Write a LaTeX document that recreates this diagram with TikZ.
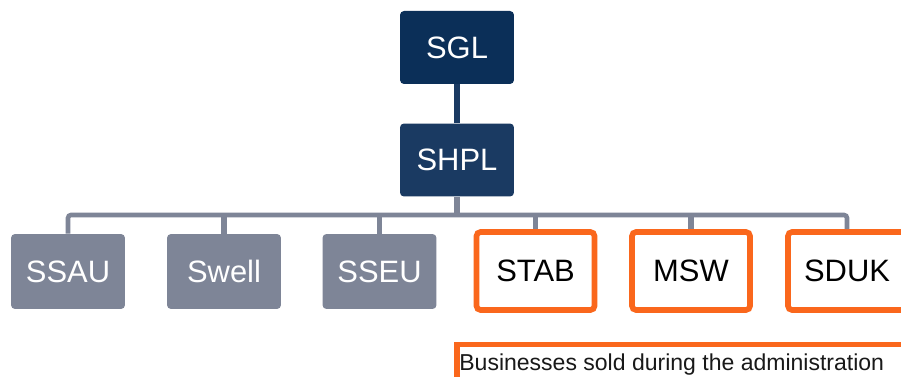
\documentclass[tikz,border=0pt]{standalone}
\usepackage{fontspec}
\setmainfont{Liberation Sans}
\definecolor{navyA}{HTML}{0B2F58}
\definecolor{navyB}{HTML}{1A3A62}
\definecolor{slate}{HTML}{7E8597}
\definecolor{flame}{HTML}{FA671C}

\begin{document}
\begin{tikzpicture}[x=0.02cm, y=-0.02cm,
        unit/.style={rectangle, rounded corners=0.08cm, minimum width=2.28cm, minimum height=1.5cm, inner sep=0pt, font=\fontsize{17.6}{20}\selectfont},
        parent/.style={unit, minimum height=1.46cm, text=white},
        held/.style={unit, fill=slate, text=white},
        sold/.style={unit, draw=flame, line width=3.2pt, minimum width=2.36cm, minimum height=1.56cm, text=black},
        link/.style={line width=3.2pt}]
        % Define Variables
        \def\rowA{47.5}
        \def\rowB{160}
        \def\rowC{271.5}
        \def\bar{215}

        % Canvas
        \clip (0,0) rectangle (901,377);
        \fill[white] (0,0) rectangle (901,377);

        % Parents
        \node[parent, fill=navyA] at (457,\rowA) (sgl) {SGL};
        \node[parent, fill=navyB] at (457,\rowB) (shpl) {SHPL};
        \draw[link, color=navyB] (sgl) -- (shpl);

        % Subsidiaries
        \node[held] at (68,\rowC) (ssau) {SSAU};
        \node[held] at (224,\rowC) (swell) {Swell};
        \node[held] at (379.5,\rowC) (sseu) {SSEU};
        \node[sold] at (535.5,271) (stab) {STAB};
        \node[sold] at (691,271) (msw) {MSW};
        \node[sold] at (847,271) (sduk) {SDUK};

        % Group Bar
        \coordinate (split) at (457,\bar);
        \draw[link, color=slate] (shpl) -- (split);
        \draw[line width=2.6pt, color=slate, rounded corners=0.06cm] (ssau.north) |- (split) -| (sduk.north);
        \foreach \n in {swell, sseu, stab, msw} {
            \draw[line width=2.9pt, color=slate] (\n.north) -- (\n.north |- split);
        }

        % Note
        \draw[line width=3.1pt, color=flame] (457,400) -- (457,344.5) -- (930,344.5);
        \node[anchor=base west, inner sep=0pt, text=black!90, font=\fontsize{13.1}{15}\selectfont] at (459,371) (note) {Businesses sold during the administration};
    \end{tikzpicture}
\end{document}
